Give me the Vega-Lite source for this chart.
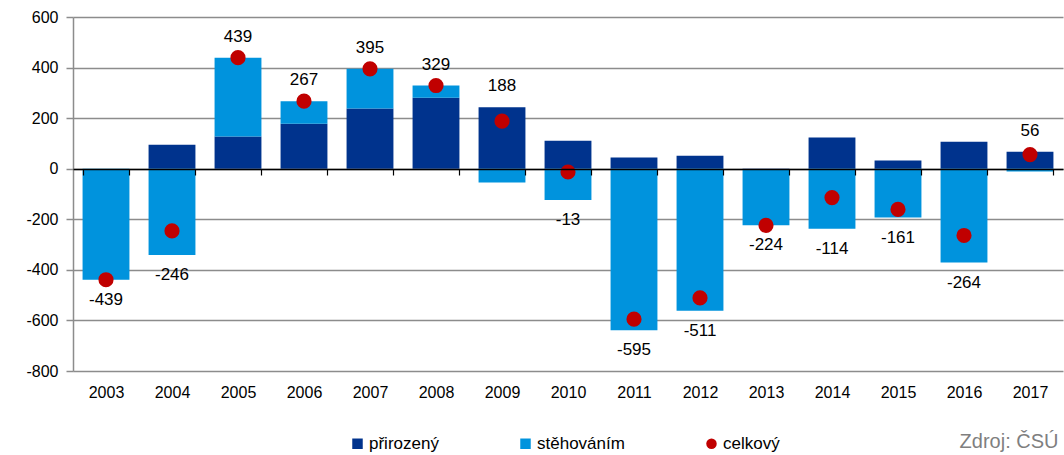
{
  "$schema": "https://vega.github.io/schema/vega-lite/v6.json",
  "width": 990,
  "height": 354,
  "autosize": {"type": "none"},
  "padding": {"left": 73, "top": 17, "right": 1, "bottom": 84},
  "config": {
    "font": "Liberation Sans",
    "view": {"stroke": null},
    "locale": {"number": {"decimal": ".", "thousands": ",", "grouping": [3], "currency": ["", ""], "minus": "-"}},
    "axis": {"labelFont": "Liberation Sans", "labelColor": "#000000"}
  },
  "data": {
    "values": [
      {"rok": "2003", "přirozený": 0, "stěhováním": -439, "celkový": -439},
      {"rok": "2004", "přirozený": 95, "stěhováním": -341, "celkový": -246},
      {"rok": "2005", "přirozený": 127, "stěhováním": 312, "celkový": 439},
      {"rok": "2006", "přirozený": 178, "stěhováním": 89, "celkový": 267},
      {"rok": "2007", "přirozený": 238, "stěhováním": 157, "celkový": 395},
      {"rok": "2008", "přirozený": 281, "stěhováním": 48, "celkový": 329},
      {"rok": "2009", "přirozený": 243, "stěhováním": -55, "celkový": 188},
      {"rok": "2010", "přirozený": 111, "stěhováním": -124, "celkový": -13},
      {"rok": "2011", "přirozený": 44, "stěhováním": -639, "celkový": -595},
      {"rok": "2012", "přirozený": 51, "stěhováním": -562, "celkový": -511},
      {"rok": "2013", "přirozený": -2, "stěhováním": -222, "celkový": -224},
      {"rok": "2014", "přirozený": 123, "stěhováním": -237, "celkový": -114},
      {"rok": "2015", "přirozený": 32, "stěhováním": -193, "celkový": -161},
      {"rok": "2016", "přirozený": 107, "stěhováním": -371, "celkový": -264},
      {"rok": "2017", "přirozený": 67, "stěhováním": -11, "celkový": 56}
    ]
  },
  "encoding": {
    "x": {
      "field": "rok",
      "type": "nominal",
      "scale": {"paddingInner": 0.29, "paddingOuter": 0.145},
      "axis": {
        "title": "Zdroj: ČSÚ",
        "titleAnchor": "end",
        "titleAlign": "right",
        "titleBaseline": "top",
        "titleColor": "#7f7f7f",
        "titleFont": "Liberation Sans",
        "titleFontSize": 20,
        "titleFontWeight": "normal",
        "titlePadding": 62,
        "titleX": 985,
        "orient": "bottom",
        "offset": -202,
        "labelAngle": 0,
        "labelFontSize": 16,
        "labelPadding": 209,
        "domainColor": "#000000",
        "domainWidth": 1.5,
        "tickColor": "#000000",
        "tickWidth": 1.2,
        "tickSize": 6,
        "tickBand": "extent",
        "grid": false,
        "zindex": 2
      }
    }
  },
  "layer": [
    {
      "transform": [{"fold": ["přirozený", "stěhováním"], "as": ["typ", "hodnota"]}],
      "mark": {"type": "bar"},
      "encoding": {
        "y": {
          "field": "hodnota",
          "type": "quantitative",
          "stack": "zero",
          "scale": {"domain": [-800, 600], "nice": false},
          "axis": {
            "title": null,
            "values": [-800, -600, -400, -200, 0, 200, 400, 600],
            "labelFontSize": 16,
            "labelPadding": 8,
            "grid": true,
            "gridColor": "#8c8c8c",
            "gridWidth": 1.5,
            "domainColor": "#8c8c8c",
            "domainWidth": 1.5,
            "tickColor": "#8c8c8c",
            "tickWidth": 1.5,
            "tickSize": 7
          }
        },
        "color": {
          "field": "typ",
          "type": "nominal",
          "scale": {
            "domain": ["přirozený", "stěhováním", "celkový"],
            "range": ["#00338D", "#0093DD", "#C00000"]
          },
          "legend": {
            "title": null,
            "orient": "none",
            "direction": "horizontal",
            "legendX": 276,
            "legendY": 418,
            "labelFontSize": 17,
            "labelColor": "#000000",
            "labelOffset": 3,
            "symbolSize": 110,
            "symbolStrokeWidth": 0,
            "columnPadding": 78,
            "gridAlign": "each"
          }
        },
        "order": {"field": "typ", "sort": "ascending"}
      }
    },
    {
      "transform": [{"fold": ["celkový"], "as": ["typ", "hodnota"]}],
      "mark": {"type": "point", "filled": true, "size": 230, "opacity": 1},
      "encoding": {
        "y": {"field": "hodnota", "type": "quantitative"},
        "color": {"field": "typ", "type": "nominal"},
        "shape": {
          "field": "typ",
          "type": "nominal",
          "scale": {
            "domain": ["přirozený", "stěhováním", "celkový"],
            "range": ["square", "square", "circle"]
          },
          "legend": {
            "title": null,
            "orient": "none",
            "direction": "horizontal",
            "legendX": 276,
            "legendY": 418,
            "labelFontSize": 17,
            "labelColor": "#000000",
            "labelOffset": 3,
            "symbolSize": 110,
            "symbolStrokeWidth": 0,
            "columnPadding": 78,
            "gridAlign": "each"
          }
        }
      }
    },
    {
      "transform": [
        {"filter": "datum['celkový'] >= 0"},
        {"calculate": "max(datum['přirozený'], 0) + max(datum['stěhováním'], 0)", "as": "okraj"}
      ],
      "mark": {"type": "text", "baseline": "middle", "dy": -21, "fontSize": 17, "color": "#000000"},
      "encoding": {
        "y": {"field": "okraj", "type": "quantitative"},
        "text": {"field": "celkový", "type": "quantitative"}
      }
    },
    {
      "transform": [
        {"filter": "datum['celkový'] < 0"},
        {"calculate": "min(datum['přirozený'], 0) + min(datum['stěhováním'], 0)", "as": "okraj"}
      ],
      "mark": {"type": "text", "baseline": "middle", "dy": 20, "fontSize": 17, "color": "#000000"},
      "encoding": {
        "y": {"field": "okraj", "type": "quantitative"},
        "text": {"field": "celkový", "type": "quantitative"}
      }
    }
  ]
}
